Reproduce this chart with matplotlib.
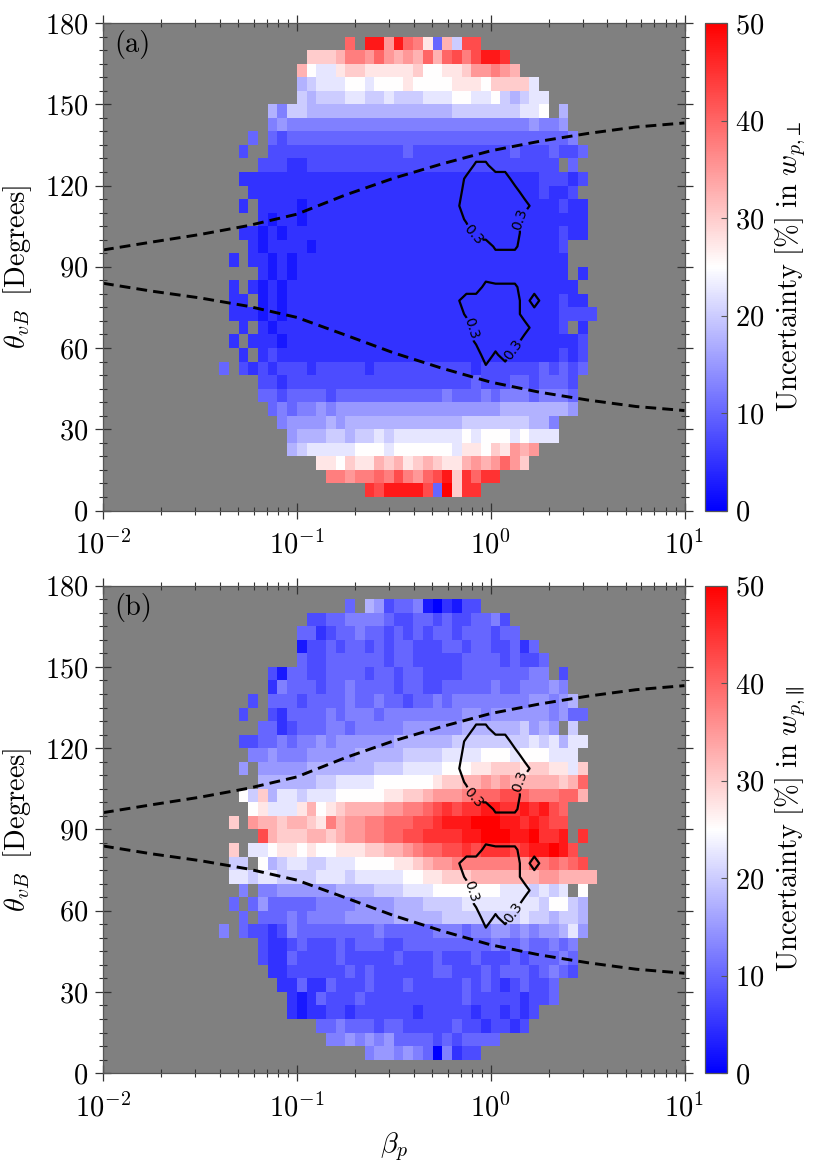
import numpy as np
import matplotlib
matplotlib.use("Agg")
import matplotlib.pyplot as plt
from matplotlib.ticker import LogLocator, MultipleLocator, NullFormatter

plt.rcParams['font.family'] = ['cmr10', 'DejaVu Serif']
plt.rcParams['mathtext.fontset'] = 'cm'
plt.rcParams['axes.formatter.use_mathtext'] = True

# ---------------- data ----------------
# bins: log10(beta_p) from -2 to 1 in 0.05 steps (60 columns), theta 0..180 in 5 deg (36 rows)
N_COLS = 60
N_ROWS = 36
LOG_BETA_MIN, LOG_BETA_MAX = -2.0, 1.0
THETA_STEP = 5

# colour code of the cells: a=0%, b=2.5%, ... k=25%, ... u=50%
LEVEL_CHARS = "abcdefghijklmnopqrstu"
LEVEL_STEP = 2.5

# panel (a): uncertainty in w_perp; row -> "startcol:cells ..."
ROWS_A = {
    1: "27:srttttreum 37:ss",
    2: "23:ppoppqprpo 33:qrtmsqss",
    3: "22:llkmllnmnl 32:mnmllnonoq 42:om",
    4: "19:hijjjjjkkk 29:jkkkkkkjll 39:kmlono",
    5: "19:ghhhiihiij 29:ijjjjjjjkj 39:kkkjkjjj",
    6: "18:fgggghghhh 28:hhhhhhhhhi 38:iiiiiihhf",
    7: "17:efeffgfggg 27:gggggggggg 37:gggghhhhhh 47:hg",
    8: "16:eedeeeedee 26:eeeeeeeeef 36:eeefefffef 46:ffe",
    9: "16:ddcddddddd 26:dddddddddd 36:ddedddeede 46:eed",
    10: "12:e 14:dcdcdddcdd 24:dddcdddddd 34:ddddcddddd 44:dedede",
    11: "14:c 16:cdcccccccc 26:cccccccccc 36:cccccccccc 46:cdcd",
    12: "13:c 15:cccbcccccc 25:cccccccccc 35:cccccccccc 45:ccccd",
    13: "14:c 16:cbcccccccc 26:cccccccccc 36:cccccccccc 46:cd 49:c",
    14: "13:cccbcbcccc 23:cccccccccc 33:cccccccccc 43:ccccdddd",
    15: "13:cc 16:bcbccccccc 26:cccccccccc 36:cccccccccc 46:cdcc",
    16: "13:c 15:cbcbcccccc 25:cccccccccc 35:cccccccccc 45:cccc",
    17: "16:cbcbcccccc 26:cccccccccc 36:cccccccccc 46:cc 49:c",
    18: "13:c 15:ccbcbccccc 25:cccccccccc 35:cccccccccc 45:ccc",
    19: "15:cbccccbccc 25:cccccccccc 35:cccccccccc 45:ccd",
    20: "14:ccbcbccccc 24:cccccccccc 34:cccccccccc 44:cccdcc",
    21: "16:cbccbccccc 26:cccccccccc 36:cccccccccc 46:cccc",
    22: "14:c 16:ccccbccccc 26:cccccccccc 36:cccccccccc 46:cdcc",
    23: "15:cccccccccc 25:cccccccccc 35:cccccccccc 45:dccd",
    24: "14:cccccccccc 24:cccccccccc 34:cccccccccc 44:cdddcd",
    25: "16:dddccddddd 26:dddddddddd 36:dddddddddd 46:d 48:e",
    26: "14:d 17:dddddddddd 27:ddddeddddd 37:dddddeddde 47:dde",
    27: "15:e 17:edeeeeeeee 27:eeeeeeeeee 37:eeeeeeeeee 47:ef",
    28: "17:fgffffffff 27:ffffffffff 37:fffffffgff 47:g",
    29: "17:hfiihhhhhh 27:hhhhhhhhhi 37:iiiiiijjk 47:h",
    30: "20:ihiiijjiij 30:iiijjjkkjj 40:kihijj",
    31: "20:hijjjkkjkk 30:klkkkklllk 40:mmmmj",
    32: "20:nkjjlmmlll 30:llmkkllmoo 40:pon",
    33: "21:mmmnppoqon 31:onqnqrprtt 41:s",
    34: "25:q 27:ttotqplenirr",
}

# panel (b): uncertainty in w_par
ROWS_B = {
    1: "27:fggfgfeafc 37:dd",
    2: "23:ffgfgfgeee 33:ededeeee",
    3: "22:eefeeedeed 32:ddddeddcdd 42:cd",
    4: "19:cbccddcddd 29:dddcdddddc 39:ddcdcd",
    5: "19:cbcedddedd 29:dddddddded 39:ddddcdde",
    6: "18:ccecceddde 28:dddeddddde 38:dedcdedde",
    7: "17:ccdddddded 27:eddddddeed 37:ddedeeedef 47:ed",
    8: "16:dccedddded 26:ddddeddded 36:ddedddedee 46:efe",
    9: "16:dccdeddded 26:eeeddeeeee 36:eeeefeefee 46:fef",
    10: "12:f 14:eddcdfeeee 24:eeeefeeeee 34:fffeffggfg 44:fgghjg",
    11: "14:e 16:eeefeffffg 26:gggghhhhhi 36:iiiiiiijii 46:hiih",
    12: "13:e 15:egeeeeefff 25:fgggghhhii 35:iijjjjjjjj 45:ikkih",
    13: "14:f 16:ffgggggghh 26:hhiiijjjkk 36:kkkkkjjjij 46:ij 49:k",
    14: "13:jjijjiiiij 23:jjijjjjjkk 33:llmmmnnnnn 43:nnoonnnn",
    15: "13:ii 16:khijjiijjj 26:kkkkllmnoo 36:pppppppoqp 46:qpqr",
    16: "13:m 15:jjkllklkkl 25:llmmnnopqq 35:rrsrsssrst 45:tutr",
    17: "16:rnmmmnnmno 26:oppqqrrsss 36:sttuuuttus 46:st 49:s",
    18: "13:m 15:onnmnnmlpn 25:ooppqqqrrs 35:tttuuuttst 45:srr",
    19: "15:kljjjlnklm 25:nnnnooppqr 35:srssttssts 45:trq",
    20: "14:kimhjjijjj 24:kkkkkllmmn 34:ooopqqqrrq 44:pppqqn",
    21: "16:hhhhhhiijj 26:jjkkkkkklm 36:mnnononnnn 46:nmnq",
    22: "14:g 16:ggggghhhhh 26:hhiiijjjjk 36:kkllmmmlmm 46:lljm",
    23: "15:ffgfffgggg 25:ghhhhhiiii 35:jjjjkkkjkk 45:kjjj",
    24: "14:ddeefeffgf 24:gggggghhhh 34:hhiiiiiiii 44:jijhjj",
    25: "16:eecdeeeffe 26:fffffggggg 36:ghhhhhhigh 46:g 48:i",
    26: "14:d 17:dceeeefeff 27:feffffffff 37:ggfggggggf 47:gee",
    27: "15:d 17:eeedeeeefe 27:efeedeefef 37:fffffffggf 47:gh",
    28: "17:cfeeedeefe 27:eeedeeddee 37:eeefeefffg 47:f",
    29: "17:dbeeddeeee 27:deedeedddd 37:eeeeeeeff 47:d",
    30: "20:eddeeeeeed 30:eedddddeee 40:ededde",
    31: "20:bddedeeded 30:eedddeedee 40:ddece",
    32: "20:eecdeefeed 30:ededeedeee 40:dee",
    33: "21:ddeeffffed 31:deededdeef 41:d",
    34: "25:e 27:hgdeefbacbdd",
}

# normalised occurrence (tenths) used for the 0.3 contour; all other cells are 0
ROWS_DENSITY = {
    10: "39:2",
    11: "39:626",
    12: "38:46666",
    13: "38:666666",
    14: "37:466666",
    15: "36:2666666 44:6",
    16: "39:5444",
    19: "40:444",
    20: "38:66666",
    21: "37:466666",
    22: "36:26666666",
    23: "37:666666",
    24: "37:46666",
    25: "38:44",
}
CONTOUR_LEVEL = 0.3

# dashed curves (beta_p, theta_vB)
CURVE_BETA = [0.01, 0.0178, 0.0316, 0.0562, 0.1, 0.178, 0.316, 0.562,
              1.0, 1.78, 3.16, 5.62, 10.0]
CURVE_THETA_UPPER = [96.2, 99.1, 101.9, 105.2, 109.4, 116.5, 122.7, 128.0,
                     132.8, 136.3, 139.2, 141.6, 143.1]
CURVE_THETA_LOWER = [83.9, 81.0, 78.5, 75.4, 71.3, 64.8, 58.2, 52.5,
                     47.4, 43.7, 40.8, 38.4, 36.9]

PANEL_LABELS = ["(a)", "(b)"]
CBAR_LABELS = [r"$\mathrm{Uncertainty\ [\%]\ in}\ w_{p{,}\perp}$",
               r"$\mathrm{Uncertainty\ [\%]\ in}\ w_{p{,}\parallel}$"]
CBAR_TICKS = [0, 10, 20, 30, 40, 50]
Y_TICKS = [0, 30, 60, 90, 120, 150, 180]


def build_grid(rows, lookup):
    z = np.full((N_ROWS, N_COLS), np.nan)
    for r, spec in rows.items():
        for seg in spec.split():
            start, cells = seg.split(":")
            for i, ch in enumerate(cells):
                z[r, int(start) + i] = lookup(ch)
    return z


Z_A = build_grid(ROWS_A, lambda c: LEVEL_CHARS.index(c) * LEVEL_STEP)
Z_B = build_grid(ROWS_B, lambda c: LEVEL_CHARS.index(c) * LEVEL_STEP)
DENS = np.nan_to_num(build_grid(ROWS_DENSITY, lambda c: int(c) / 10.0), nan=0.0)

log_edges = np.linspace(LOG_BETA_MIN, LOG_BETA_MAX, N_COLS + 1)
beta_edges = 10 ** log_edges
beta_centers = 10 ** (0.5 * (log_edges[:-1] + log_edges[1:]))
theta_edges = np.arange(0, 180 + THETA_STEP, THETA_STEP)
theta_centers = 0.5 * (theta_edges[:-1] + theta_edges[1:])

# ---------------- figure ----------------
W, H = 830, 1162
fig = plt.figure(figsize=(W / 100, H / 100), dpi=100)

ax_left = 103 / W
ax_w = 581.5 / W
ax_h = 487.5 / H
bottoms = [1 - 510.5 / H, 1 - 1073.2 / H]
cb_left = 705 / W
cb_w = 22 / W

FS = 20.5
GRAY = '#808080'
TICKC = '#333333'

label_pos = [(0.767, 100.5), (1.445, 107.3), (0.738, 66.7), (1.31, 59.3)]

for idx, (Z, bottom) in enumerate(zip([Z_A, Z_B], bottoms)):
    ax = fig.add_axes([ax_left, bottom, ax_w, ax_h])
    ax.set_facecolor(GRAY)
    mesh = ax.pcolormesh(beta_edges, theta_edges, np.ma.masked_invalid(Z),
                         cmap='bwr', vmin=0, vmax=50, shading='flat')
    ax.set_xscale('log')
    ax.set_xlim(10 ** LOG_BETA_MIN, 10 ** LOG_BETA_MAX)
    ax.set_ylim(0, 180)

    ax.plot(CURVE_BETA, CURVE_THETA_UPPER, color='black', lw=2.1,
            linestyle=(0, (3.7, 2.1)))
    ax.plot(CURVE_BETA, CURVE_THETA_LOWER, color='black', lw=2.1,
            linestyle=(0, (3.7, 2.1)))

    cs = ax.contour(beta_centers, theta_centers, DENS, levels=[CONTOUR_LEVEL],
                    colors='black', linewidths=1.6)
    lbls = ax.clabel(cs, fmt='%.1f', fontsize=10, inline=True,
                     inline_spacing=3, manual=label_pos)
    for t in lbls:
        t.set_family('DejaVu Sans')

    ax.set_yticks(Y_TICKS)
    ax.yaxis.set_minor_locator(MultipleLocator(5))
    ax.xaxis.set_major_locator(LogLocator(base=10, numticks=10))
    ax.xaxis.set_minor_locator(LogLocator(base=10, subs=np.arange(2, 10), numticks=20))
    ax.xaxis.set_minor_formatter(NullFormatter())
    ax.tick_params(which='both', direction='inout', top=True, right=True,
                   color=TICKC, labelsize=FS)
    ax.tick_params(which='major', length=11, width=0.9)
    ax.tick_params(which='minor', length=6, width=0.8)
    ax.tick_params(axis='x', pad=9)
    ax.tick_params(axis='y', pad=5)
    for s in ax.spines.values():
        s.set_edgecolor('#555555')
        s.set_linewidth(0.9)

    ax.set_ylabel(r'$\theta_{vB}\;\;\mathrm{[Degrees]}$', fontsize=FS, labelpad=8)
    ax.text(0.02, 0.985, PANEL_LABELS[idx], transform=ax.transAxes,
            fontsize=FS, va='top', ha='left')
    if idx == 1:
        ax.set_xlabel(r'$\beta_p$', fontsize=FS, labelpad=6)

    cax = fig.add_axes([cb_left, bottom, cb_w, ax_h])
    cb = fig.colorbar(mesh, cax=cax, ticks=CBAR_TICKS)
    cb.outline.set_edgecolor('#555555')
    cb.outline.set_linewidth(0.9)
    cax.tick_params(labelsize=FS, direction='in', length=4, color='#555555', pad=6)
    cb.set_label(CBAR_LABELS[idx], fontsize=FS, labelpad=6)

fig.savefig('out.png', dpi=100)
